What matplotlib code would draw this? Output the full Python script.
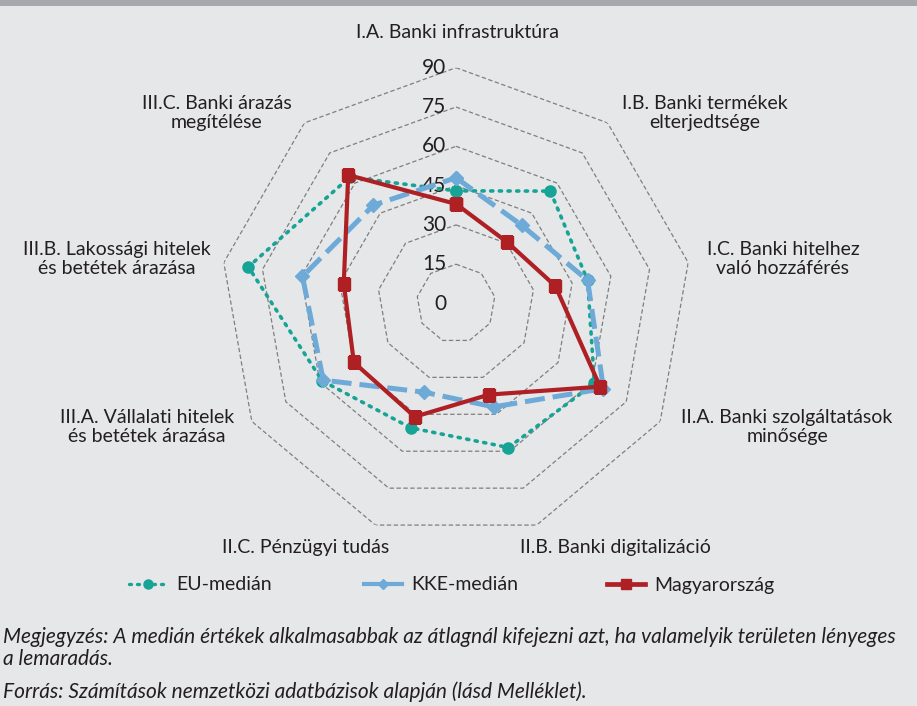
import numpy as np
import matplotlib
matplotlib.use("Agg")
import matplotlib.pyplot as plt
from matplotlib.lines import Line2D
from matplotlib.patches import Rectangle

plt.rcParams['font.family'] = ['Lato', 'DejaVu Sans']

# ----------------------------
# Data
# ----------------------------
categories = [
    "I.A. Banki infrastruktúra",
    "I.B. Banki termékek\nelterjedtsége",
    "I.C. Banki hitelhez\nvaló hozzáférés",
    "II.A. Banki szolgáltatások\nminősége",
    "II.B. Banki digitalizáció",
    "II.C. Pénzügyi tudás",
    "III.A. Vállalati hitelek\nés betétek árazása",
    "III.B. Lakossági hitelek\nés betétek árazása",
    "III.C. Banki árazás\nmegítélése",
]
eu_median = [43, 56, 51, 61, 58.5, 50.5, 59, 80.5, 63]
kke_median = [48, 39, 51, 65, 42, 36, 58.5, 59.5, 49]
hungary = [38, 30.5, 38.5, 63.5, 37, 46, 45, 43.5, 64]
ring_ticks = [0, 15, 30, 45, 60, 75, 90]

note_text = ("Megjegyzés: A medián értékek alkalmasabbak az átlagnál kifejezni azt, "
             "ha valamelyik területen lényeges\na lemaradás.")
source_text = "Forrás: Számítások nemzetközi adatbázisok alapján (lásd Melléklet)."

# label centres in figure pixels (x, y from top)
label_pos = [(458, 33), (705, 113), (783, 259), (787, 427), (615, 548),
             (306, 548), (147, 427), (117, 259), (217, 113)]

BG = "#E6E7E9"
TEXT = "#231F20"
C_EU = "#17A396"
C_KKE = "#6DAAD8"
C_HU = "#AE2024"

W, H = 917, 706
fig = plt.figure(figsize=(W / 100, H / 100), dpi=100, facecolor=BG)
fig.add_artist(Rectangle((0, 1 - 6 / H), 1, 6 / H, transform=fig.transFigure,
                         facecolor="#A7A8AB", edgecolor="none"))

# polar axes: centre (456, 303.5) px, radius 235.8 px for 90
cx, cy, R = 456, 303.5, 235.8
ax = fig.add_axes([(cx - R) / W, (H - cy - R) / H, 2 * R / W, 2 * R / H],
                  projection="polar")
ax.set_facecolor("none")
ax.set_theta_zero_location("N")
ax.set_theta_direction(-1)
ax.set_ylim(0, 90)
ax.grid(False)
ax.spines["polar"].set_visible(False)
ax.set_xticks([])
ax.set_yticks([])

n = len(categories)
angles = np.linspace(0, 2 * np.pi, n, endpoint=False)
closed = np.append(angles, angles[0])

# polygon grid
for v in ring_ticks[1:]:
    ax.plot(closed, [v] * (n + 1), color="#7F7F7F", lw=0.9,
            linestyle=(0, (3.5, 2)), zorder=1)

for v in ring_ticks:
    ax.annotate(str(v), (0, v), xytext=(-7, 0), textcoords="offset points",
                ha="right", va="center", fontsize=15, color=TEXT)


def close(vals):
    return vals + vals[:1]


ax.plot(closed, close(eu_median), color=C_EU, lw=2.6, linestyle=(0, (0.6, 1.8)),
        dash_capstyle="round", marker="o", markersize=8, zorder=3)
ax.plot(closed, close(kke_median), color=C_KKE, lw=3.6, linestyle=(0, (4, 1.6)),
        marker="D", markersize=7, zorder=4)
ax.plot(closed, close(hungary), color=C_HU, lw=3, marker="s", markersize=8,
        zorder=5)

for lab, (px, py) in zip(categories, label_pos):
    fig.text(px / W, 1 - py / H, lab, ha="center", va="center", fontsize=14,
             color=TEXT, linespacing=1.15)

# legend
h_eu = Line2D([], [], color=C_EU, lw=2.4, linestyle=(0, (0.6, 1.8)),
              dash_capstyle="round", marker="o", markersize=6.5)
h_kke = Line2D([], [], color=C_KKE, lw=3.0, marker="D", markersize=5)
h_hu = Line2D([], [], color=C_HU, lw=3.4, marker="s", markersize=6.5)
for h, lab, x0 in [(h_eu, "EU-medián", 129), (h_kke, "KKE-medián", 364),
                   (h_hu, "Magyarország", 607)]:
    fig.legend([h], [lab], loc="center left", bbox_to_anchor=(x0 / W, 1 - 585 / H),
               frameon=False, fontsize=14, handlelength=1.95, handletextpad=0.5,
               borderaxespad=0, borderpad=0, labelcolor=TEXT)

fig.text(3 / W, 1 - 648 / H, note_text, ha="left", va="center", fontsize=15,
         style="italic", color=TEXT, linespacing=1.1)
fig.text(3 / W, 1 - 692 / H, source_text, ha="left", va="center", fontsize=15,
         style="italic", color=TEXT)

fig.savefig("out.png", dpi=100, facecolor=BG)
